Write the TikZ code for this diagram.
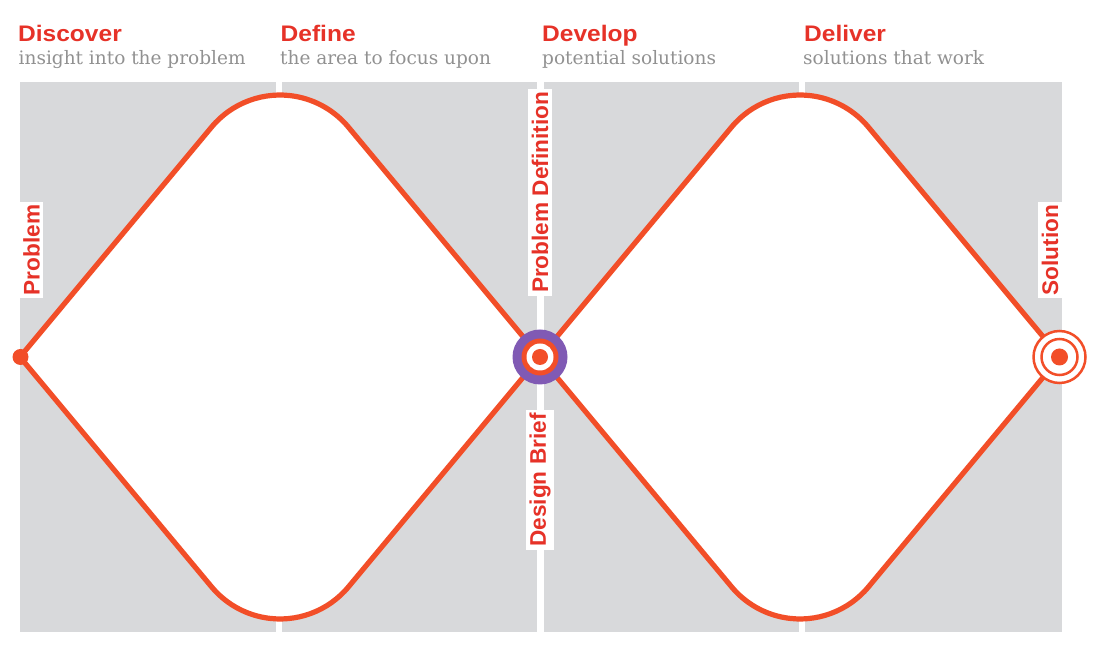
\documentclass[tikz,border=0pt]{standalone}
\usepackage{fontspec}
\setmainfont{Liberation Sans}
\newfontfamily\hdfont[FakeStretch=1.09]{Liberation Sans}
\newfontfamily\subfont{DejaVu Serif}
\definecolor{titlered}{RGB}{230,50,40}
\definecolor{linered}{RGB}{242,78,40}
\definecolor{panelgray}{RGB}{216,217,219}
\definecolor{subgray}{RGB}{145,145,145}
\definecolor{hubpurple}{RGB}{128,90,180}
\begin{document}
\begin{tikzpicture}[x=1pt,y=1pt,
  title/.style={anchor=base west, inner sep=0pt, text=titlered, font=\hdfont\bfseries\fontsize{22.5}{26}\selectfont},
  subtitle/.style={anchor=base west, inner sep=0pt, text=subgray, font=\subfont\fontsize{18.5}{22}\selectfont},
  vlabel/.style={rotate=90, fill=white, text=titlered, font=\bfseries\fontsize{22.6}{26}\selectfont, inner xsep=3pt, inner ysep=3.5pt},
  curve/.style={draw=linered, line width=5.2pt, fill=white, line join=miter},
]
\useasboundingbox (0,0) rectangle (1098,653);
% panels
\fill[panelgray] (20,21) rectangle (276,571);
\fill[panelgray] (282,21) rectangle (537,571);
\fill[panelgray] (544,21) rectangle (799,571);
\fill[panelgray] (805,21) rectangle (1062,571);
% diamonds
\draw[curve] (20,296) -- (211.6,525.95) arc[start angle=140.19, end angle=39.81, radius=89]
  -- (540,296) -- (348.4,66.05) arc[start angle=-39.81, end angle=-140.19, radius=89] -- cycle;
\draw[curve] (540,296) -- (731.6,525.95) arc[start angle=140.19, end angle=39.81, radius=89]
  -- (1060,296) -- (868.4,66.05) arc[start angle=-39.81, end angle=-140.19, radius=89] -- cycle;
% titles
\node[title] (t1) at (18,611) {Discover};
\node[subtitle] (s1) at (18.5,588) {insight into the problem};
\node[title] (t2) at (280.5,611) {Define};
\node[subtitle] (s2) at (280,588) {the area to focus upon};
\node[title] (t3) at (542,611) {Develop};
\node[subtitle] (s3) at (542,588) {potential solutions};
\node[title] (t4) at (804,611) {Deliver};
\node[subtitle] (s4) at (803,588) {solutions that work};
% vertical labels
\node[vlabel] (lprob) at (31.5,403) {Problem};
\node[vlabel] (ldef) at (540,460.5) {Problem Definition};
\node[vlabel] (lbrief) at (540,173) {Design Brief};
\node[vlabel] (lsol) at (1050,403) {Solution};
% points
\coordinate (start) at (20.5,296);
\coordinate (mid) at (540,296);
\coordinate (sol) at (1059.5,296);
\fill[linered] (start) circle (8);
\fill[hubpurple] (mid) circle (27.5);
\fill[linered] (mid) circle (18.5);
\fill[white] (mid) circle (13.5);
\fill[linered] (mid) circle (8);
\draw[linered, line width=2.5pt, fill=white] (sol) circle (26);
\draw[linered, line width=2.5pt] (sol) circle (18);
\fill[linered] (sol) circle (8.5);
\end{tikzpicture}
\end{document}
